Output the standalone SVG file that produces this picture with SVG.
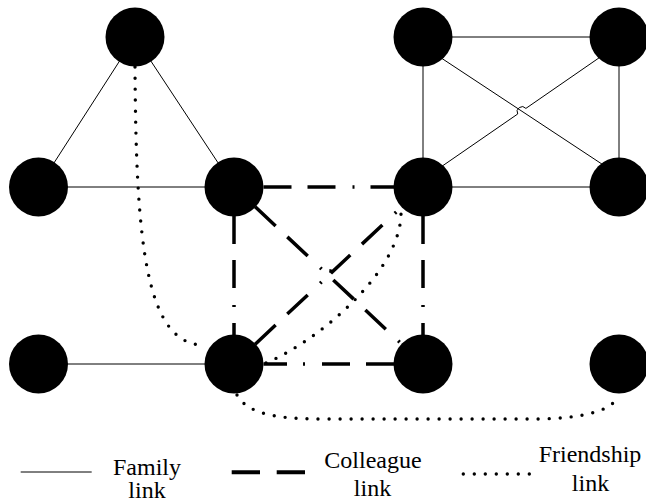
<svg xmlns="http://www.w3.org/2000/svg" width="646" height="503" viewBox="0 0 646 503">
  <style>
    .family { fill: none; stroke: #000; stroke-width: 1; }
    .colleague { fill: none; stroke: #000; stroke-width: 3.5; stroke-dasharray: 28 16 28 17 2 16; stroke-linecap: butt; }
    .friend { fill: none; stroke: #000; stroke-width: 3.4; stroke-dasharray: 0 11; stroke-linecap: round; }
    .node { fill: #000; }
    .label { font-family: "Liberation Serif", "DejaVu Serif", serif; font-size: 24px; fill: #000; text-anchor: middle; }
  </style>
  <rect width="646" height="503" fill="#fff"/>

  <g id="connectors">
    <!-- family links -->
    <line class="family" x1="135" y1="37" x2="38.5" y2="187"/>
    <line class="family" x1="135" y1="37" x2="234" y2="187"/>
    <line class="family" x1="38.5" y1="187" x2="234" y2="187"/>
    <line class="family" x1="38.5" y1="364" x2="234" y2="364"/>
    <line class="family" x1="423" y1="37" x2="619" y2="37"/>
    <line class="family" x1="423" y1="37" x2="423" y2="187"/>
    <line class="family" x1="619" y1="37" x2="619" y2="187"/>
    <line class="family" x1="423" y1="187" x2="619" y2="187"/>
    <line class="family" x1="430" y1="50.6" x2="610" y2="169.4"/>
    <path class="family" d="M430,174.5 L517.7,114 A5,5 0 0 1 525.9,108.4 L612,48.9"/>

    <!-- colleague links (drawn from the edge of the start node) -->
    <line class="colleague" x1="263.5" y1="187" x2="394" y2="187"/>
    <line class="colleague" x1="234" y1="216" x2="234" y2="335"/>
    <line class="colleague" x1="423" y1="216" x2="423" y2="335"/>
    <line class="colleague" x1="394" y1="364" x2="263.5" y2="364"/>
    <line class="colleague" x1="255.2" y1="206.8" x2="401.8" y2="344.2"/>
    <path class="colleague" d="M255.2,344.2 L324.8,278.9 A5,5 0 0 1 332.1,272.1 L401.8,206.8"/>

    <!-- friendship links -->
    <path class="friend" d="M135,67 C136,240 145,345 204,345"/>
    <path class="friend" d="M266,363 C320,340 402,270 401,212"/>
    <path class="friend" d="M237,395 C250,418 290,419 330,419 L540,419 C580,418 610,412 618,397"/>
  </g>

  <g id="nodes">
    <g id="n1"><circle class="node" cx="135" cy="37" r="29.5"/></g>
    <g id="n2"><circle class="node" cx="38.5" cy="187" r="29.5"/></g>
    <g id="n3"><circle class="node" cx="234" cy="187" r="29.5"/></g>
    <g id="n4"><circle class="node" cx="423" cy="37" r="29.5"/></g>
    <g id="n5"><circle class="node" cx="619" cy="37" r="29.5"/></g>
    <g id="n6"><circle class="node" cx="423" cy="187" r="29.5"/></g>
    <g id="n7"><circle class="node" cx="619" cy="187" r="29.5"/></g>
    <g id="n8"><circle class="node" cx="38.5" cy="364" r="29.5"/></g>
    <g id="n9"><circle class="node" cx="234" cy="364" r="29.5"/></g>
    <g id="n10"><circle class="node" cx="423" cy="364" r="29.5"/></g>
    <g id="n11"><circle class="node" cx="619" cy="364" r="29.5"/></g>
  </g>

  <g id="legend">
    <line class="family" x1="20.7" y1="472" x2="91.7" y2="472"/>
    <line stroke="#000" stroke-width="4" stroke-dasharray="28.3 16.7" x1="231.7" y1="472.3" x2="306" y2="472.3"/>
    <line class="friend" stroke-dasharray="0 11.4" x1="463.3" y1="474" x2="532" y2="474"/>
    <text class="label" x="147" y="475">Family</text>
    <text class="label" x="147" y="498">link</text>
    <text class="label" x="373" y="468">Colleague</text>
    <text class="label" x="372.5" y="496">link</text>
    <text class="label" x="590" y="462">Friendship</text>
    <text class="label" x="590.5" y="491">link</text>
  </g>
</svg>
